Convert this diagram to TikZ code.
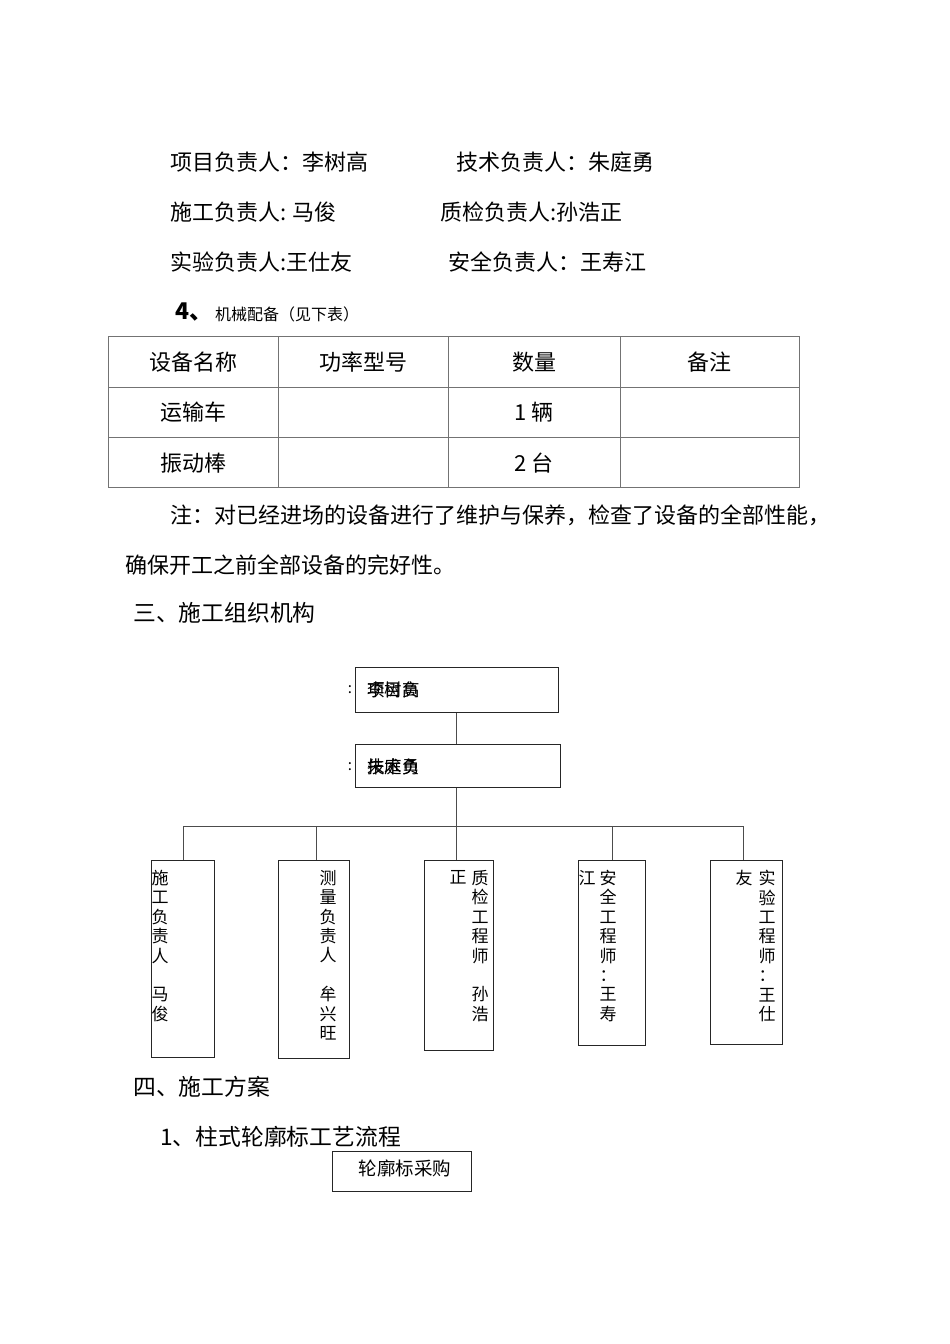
\documentclass[tikz,border=0pt]{standalone}
\usepackage{fontspec}
\setmainfont{Noto Sans CJK SC}
\begin{document}
\begin{tikzpicture}[x=1pt,y=-1pt,
  txt/.style={anchor=west,inner sep=0pt,font=\fontsize{22}{26}\selectfont},
  htxt/.style={anchor=west,inner sep=0pt,font=\fontsize{22.8}{26}\selectfont},
  ctxt/.style={inner sep=0pt,font=\fontsize{22}{26}\selectfont},
  box/.style={draw=black!85,line width=0.9pt,anchor=north west,inner sep=0pt},
  link/.style={draw=black!70,line width=1pt},
  tbl/.style={draw=black!55,line width=0.9pt},
  vtxt/.style={anchor=north,inner sep=0pt,align=center,font=\fontsize{17}{19.4}\selectfont},
  ovl/.style={anchor=west,inner sep=0pt,font=\fontsize{17.5}{20}\selectfont},
  colon/.style={inner sep=0pt,font=\fontsize{15}{16}\selectfont}]
\fill[white] (0,0) rectangle (950,1344);
\useasboundingbox (0,0) rectangle (950,1344);

% header lines
\node[txt] (l1a) at (170,162) {项目负责人：李树高};
\node[txt] (l1b) at (456,162) {技术负责人：朱庭勇};
\node[txt] (l2a) at (170,212) {施工负责人: 马俊};
\node[txt] (l2b) at (440,212) {质检负责人:孙浩正};
\node[txt] (l3a) at (170,262) {实验负责人:王仕友};
\node[txt] (l3b) at (448,262) {安全负责人：王寿江};
\node[txt,font=\fontsize{23}{26}\selectfont\bfseries] (n4) at (175,312) {4、};
\node[txt,font=\fontsize{16}{19}\selectfont] (n4t) at (215,314) {机械配备（见下表）};

% table
\draw[tbl] (108,336) rectangle (799,487);
\draw[tbl] (108,387) -- (799,387);
\draw[tbl] (108,437) -- (799,437);
\draw[tbl] (278,336) -- (278,487);
\draw[tbl] (448,336) -- (448,487);
\draw[tbl] (620,336) -- (620,487);
\node[ctxt] (h1) at (193,362) {设备名称};
\node[ctxt] (h2) at (363,362) {功率型号};
\node[ctxt] (h3) at (534,362) {数量};
\node[ctxt] (h4) at (709,362) {备注};
\node[ctxt] (r1a) at (193,412) {运输车};
\node[ctxt] (r1c) at (534,412) {1 辆};
\node[ctxt] (r2a) at (193,463) {振动棒};
\node[ctxt] (r2c) at (534,463) {2 台};

% note
\node[txt] (note1) at (170,515) {注：对已经进场的设备进行了维护与保养，检查了设备的全部性能，};
\node[txt] (note2) at (125,565) {确保开工之前全部设备的完好性。};
\node[htxt] (sec3) at (133,613) {三、施工组织机构};

% org chart top boxes
\node[box,minimum width=203pt,minimum height=45pt] (t1) at (355,667) {};
\node[box,minimum width=205pt,minimum height=43pt] (t2) at (355,744) {};
\node[ovl] (t1a) at (367,690) {项目负};
\node[ovl] (t1b) at (367,690) {李树高};
\node[ovl] (t2a) at (367,767) {技术负};
\node[ovl] (t2b) at (367,767) {朱庭勇};
\node[colon] (c1) at (350,690) {:};
\node[colon] (c2) at (350,767) {:};

% vertical boxes
\node[box,minimum width=63pt,minimum height=197pt] (v1) at (151,860) {};
\node[box,minimum width=71pt,minimum height=198pt] (v2) at (278,860) {};
\node[box,minimum width=69pt,minimum height=190pt] (v3) at (424,860) {};
\node[box,minimum width=67pt,minimum height=185pt] (v4) at (578,860) {};
\node[box,minimum width=72pt,minimum height=184pt] (v5) at (710,860) {};

\node[vtxt] (v1t) at (160,870) {施\\工\\负\\责\\人\\\phantom{马}\\马\\俊};
\node[vtxt] (v2t) at (328,870) {测\\量\\负\\责\\人\\\phantom{马}\\牟\\兴\\旺};
\node[vtxt] (v3t) at (480,870) {质\\检\\工\\程\\师\\\phantom{马}\\孙\\浩};
\node[vtxt] (v3x) at (458,870) {正};
\node[vtxt] (v4t) at (608,870) {安\\全\\工\\程\\师\\：\\王\\寿};
\node[vtxt] (v4x) at (587,870) {江};
\node[vtxt] (v5t) at (767,870) {实\\验\\工\\程\\师\\：\\王\\仕};
\node[vtxt] (v5x) at (744,870) {友};

% connectors
\coordinate (d1) at (183,826);
\coordinate (d2) at (316,826);
\coordinate (d3) at (456,826);
\coordinate (d4) at (612,826);
\coordinate (d5) at (743,826);
\draw[link] (t1.south) -- (t1.south |- t2.north);
\draw[link] (t2.south -| d3) -- (d3);
\draw[link] (d1) -- (d5);
\draw[link] (d1) -- (d1 |- v1.north);
\draw[link] (d2) -- (d2 |- v2.north);
\draw[link] (d3) -- (d3 |- v3.north);
\draw[link] (d4) -- (d4 |- v4.north);
\draw[link] (d5) -- (d5 |- v5.north);

% section 4
\node[htxt] (sec4) at (133,1087) {四、施工方案};
\node[htxt] (sec41) at (160,1137) {1、柱式轮廓标工艺流程};
\node[box,minimum width=139pt,minimum height=40pt] (p1) at (332,1151) {};
\node[inner sep=0pt,font=\fontsize{18.5}{21}\selectfont] (p1t) at (405,1168) {轮廓标采购};
\end{tikzpicture}
\end{document}
